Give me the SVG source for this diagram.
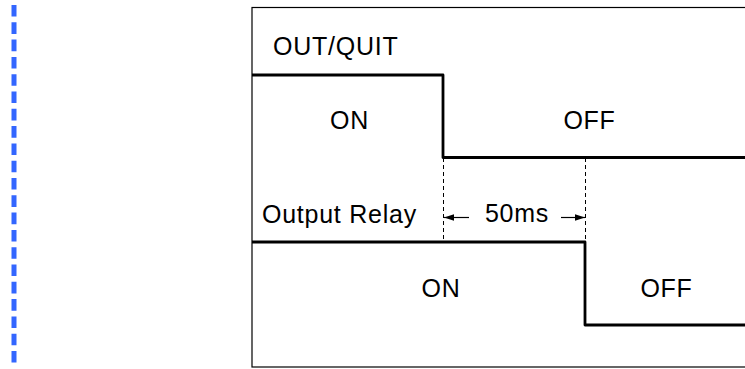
<svg xmlns="http://www.w3.org/2000/svg" width="745" height="369" viewBox="0 0 745 369">
<style>
text{font-family:"Liberation Sans",Arial,sans-serif;font-size:25px;letter-spacing:0.75px;fill:#000}
.mid{text-anchor:middle}
.wave{fill:none;stroke:#000;stroke-width:2.8;stroke-linejoin:round}
.guide{fill:none;stroke:#000;stroke-width:1;stroke-dasharray:4 3}
.arr{stroke:#000;stroke-width:1.2;marker-end:url(#ah)}
</style>
<defs>
<marker id="ah" viewBox="0 0 10 10" refX="10" refY="5" markerWidth="10" markerHeight="8" markerUnits="userSpaceOnUse" orient="auto" preserveAspectRatio="none">
<path d="M0,1 L10,5 L0,9 z" fill="#000"/>
</marker>
</defs>
<rect width="745" height="369" fill="#fff"/>
<line x1="14" y1="5" x2="14" y2="363" stroke="#3366ff" stroke-width="5" stroke-dasharray="11.6 5.7"/>
<rect id="frame" x="252" y="7.5" width="520" height="359.5" fill="none" stroke="#000" stroke-width="1.2"/>
<g id="outquit">
<text x="273" y="55">OUT/QUIT</text>
<text class="mid" x="349.5" y="129">ON</text>
<text class="mid" x="589.5" y="129">OFF</text>
</g>
<g id="relay">
<text x="262" y="223">Output Relay</text>
<text class="mid" x="441" y="297">ON</text>
<text class="mid" x="666.5" y="297">OFF</text>
</g>
<g id="timing">
<text class="mid" x="517" y="222">50ms</text>
</g>
<g id="connectors">
<polyline class="wave" points="252,75 443,75 443,157.5 746,157.5"/>
<polyline class="wave" points="252,242 585,242 585,325 746,325"/>
<line class="guide" x1="443.5" y1="158" x2="443.5" y2="242"/>
<line class="guide" x1="585.5" y1="158" x2="585.5" y2="242"/>
<line class="arr" x1="469" y1="217.5" x2="444" y2="217.5"/>
<line class="arr" x1="561" y1="217.5" x2="585" y2="217.5"/>
</g>
</svg>
